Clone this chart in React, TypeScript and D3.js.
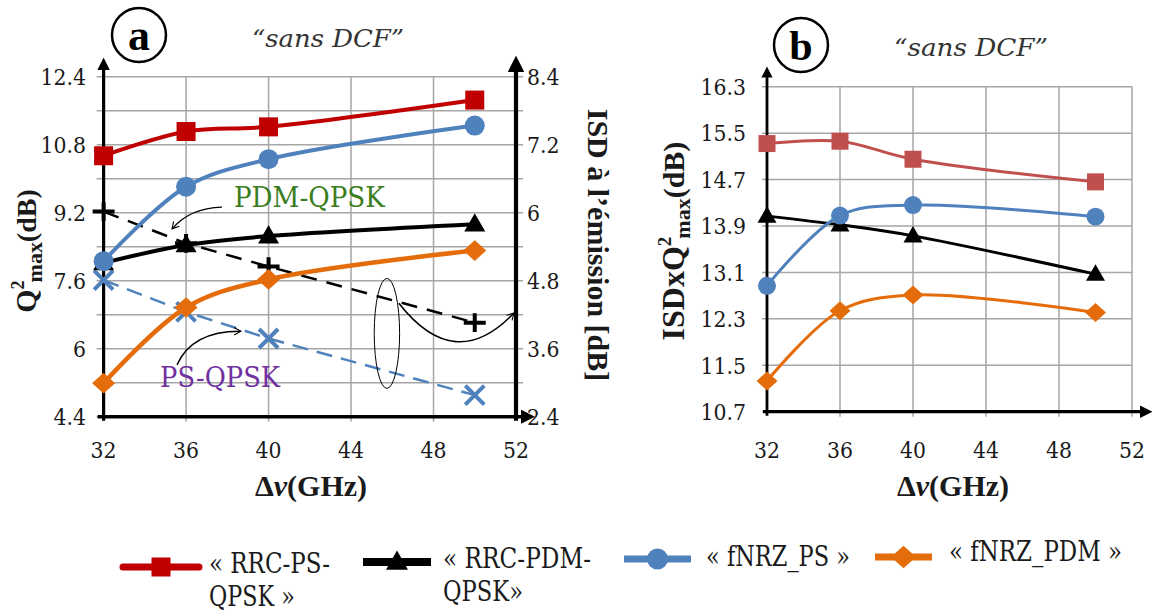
import React from "react";
import * as d3 from "d3";

// ---------- data ----------
const xValues = [32, 36, 40, 50];
const xTicks = [32, 36, 40, 44, 48, 52];

// panel a : Q²max (left axis)
const rrcPsQ = [10.54, 11.11, 11.22, 11.85];
const fnrzPsQ = [8.06, 9.81, 10.46, 11.25];
const rrcPdmQ = [8.02, 8.44, 8.65, 8.93];
const fnrzPdmQ = [5.19, 6.97, 7.63, 8.31];
// panel a : ISD à l'émission (right axis)
const isdPdm = [6.02, 5.46, 5.05, 4.06];
const isdPs = [4.81, 4.25, 3.78, 2.78];

const aLeftTicks = [4.4, 6, 7.6, 9.2, 10.8, 12.4];
const aRightTicks = [2.4, 3.6, 4.8, 6, 7.2, 8.4];
const aGrid = [4.4, 5.2, 6, 6.8, 7.6, 8.4, 9.2, 10, 10.8, 11.6, 12.4];

// panel b : ISD x Q²max
const rrcPsB = [15.32, 15.36, 15.05, 14.66];
const rrcPdmB = [14.07, 13.92, 13.73, 13.07];
const fnrzPsB = [12.87, 14.08, 14.26, 14.06];
const fnrzPdmB = [11.23, 12.44, 12.71, 12.41];
const bTicks = [10.7, 11.5, 12.3, 13.1, 13.9, 14.7, 15.5, 16.3];

const legendLabels = [
  ["« RRC-PS-", "QPSK »"],
  ["« RRC-PDM-", "QPSK»"],
  ["« fNRZ_PS »"],
  ["« fNRZ_PDM »"],
];

// ---------- styles ----------
const REG = "DejaVu Serif";
const BOLD = "Liberation Serif";
const RED_A = "#c00000";
const RED_B = "#c0504d";
const BLUE = "#4f81bd";
const ORANGE = "#e46c0a";
const GRID = "#a6a6a6";
const INK = "#1a1a1a";

// ---------- scales ----------
const xA = d3.scaleLinear().domain([32, 52]).range([103.6, 516]);
const yA = d3.scaleLinear().domain([4.4, 12.4]).range([416.7, 76.7]);
const yA2 = d3.scaleLinear().domain([2.4, 8.4]).range([416.7, 76.7]);
const xB = d3.scaleLinear().domain([32, 52]).range([767, 1132]);
const yB = d3.scaleLinear().domain([10.7, 16.3]).range([411.7, 86.7]);

const fmt = (v: number) => String(+v.toFixed(1));
// width of a numeric label in a Times-like face at 26px
const numWidth = (s: string) => s.split("").reduce((w, c) => w + (c === "." ? 6.5 : 13), 0);

// regular text: DejaVu Serif squeezed to Times-like widths
function T(props: any) {
  const { children, len, ...rest } = props;
  return (
    <text fill={INK} fontFamily={REG} textLength={len} lengthAdjust="spacingAndGlyphs" {...rest}>
      {children}
    </text>
  );
}
function B(props: any) {
  const { children, ...rest } = props;
  return (
    <text fill={INK} fontFamily={BOLD} fontWeight="bold" {...rest}>
      {children}
    </text>
  );
}

type Shape = "square" | "triangle" | "circle" | "diamond" | "x" | "plus";

function Mark({ shape, x, y, s, color }: { shape: Shape; x: number; y: number; s: number; color: string }) {
  const h = s / 2;
  if (shape === "square") return <rect x={x - h} y={y - h} width={s} height={s} fill={color} />;
  if (shape === "circle") return <circle cx={x} cy={y} r={h} fill={color} />;
  if (shape === "triangle") {
    const th = s * 0.87;
    return <path d={`M${x},${y - th * 0.6}L${x + h},${y + th * 0.4}L${x - h},${y + th * 0.4}Z`} fill={color} />;
  }
  if (shape === "diamond") {
    const hh = h * 0.9;
    return <path d={`M${x},${y - hh}L${x + h},${y}L${x},${y + hh}L${x - h},${y}Z`} fill={color} />;
  }
  if (shape === "x") {
    return (
      <path d={`M${x - h},${y - h}L${x + h},${y + h}M${x - h},${y + h}L${x + h},${y - h}`} stroke={color} strokeWidth={4} />
    );
  }
  return (
    <path d={`M${x - h},${y}L${x + h},${y}M${x},${y - h * 0.85}L${x},${y + h * 0.85}`} stroke={color} strokeWidth={4} />
  );
}

function Series({
  xs, ys, xScale, yScale, color, shape, size, width, smooth, dash,
}: {
  xs: number[]; ys: number[]; xScale: any; yScale: any; color: string; shape: Shape;
  size: number; width: number; smooth: boolean; dash?: string;
}) {
  const pts: [number, number][] = xs.map((x, i) => [xScale(x), yScale(ys[i])]);
  const line = d3.line().curve(smooth ? d3.curveCatmullRom.alpha(0.5) : d3.curveLinear);
  return (
    <g>
      <path d={line(pts) || ""} fill="none" stroke={color} strokeWidth={width} strokeDasharray={dash} />
      {pts.map((p, i) => (
        <Mark key={i} shape={shape} x={p[0]} y={p[1]} s={size} color={color} />
      ))}
    </g>
  );
}

export default function App() {
  const aLeft = xA(32);
  const aRight = xA(52);
  const aBottom = yA(4.4);
  const aTop = yA(12.4);
  const bLeft = xB(32);
  const bRight = xB(52);
  const bBottom = yB(10.7);
  const bTop = yB(16.3);

  const pdmArrow = `M${xA(37.74)},${yA(9.33)}Q${xA(36.19)},${yA(9.31)} ${xA(35.32)},${yA(8.82)}`;
  const psArrow = `M${xA(35.56)},${yA(5.62)}Q${xA(36.3)},${yA(6.42)} ${xA(38.66)},${yA(6.41)}`;
  const ellArrow = `M${xA(46.32)},${yA(7.07)}Q${xA(49.04)},${yA(5.38)} ${xA(51.9)},${yA(6.84)}`;

  const legendItems = [
    { color: RED_A, shape: "square" as Shape, x1: 123, x2: 199, y: 567, size: 19, tx: 209, ty: 573, lw: 7, lens: [121, 86] },
    { color: "#000", shape: "triangle" as Shape, x1: 363, x2: 431, y: 562, size: 22, tx: 443, ty: 568, lw: 8, lens: [148, 80] },
    { color: BLUE, shape: "circle" as Shape, x1: 624, x2: 691, y: 559, size: 21, tx: 706, ty: 566, lw: 7, lens: [144] },
    { color: ORANGE, shape: "diamond" as Shape, x1: 875, x2: 932, y: 557, size: 25, tx: 949, ty: 561, lw: 7, lens: [173] },
  ];

  return (
    <svg width={1155} height={613} style={{ position: "fixed", left: 0, top: 0, background: "#fff" }}>
      <defs>
        <marker id="axArrow" viewBox="0 0 10 10" refX="5" refY="5" markerWidth="4" markerHeight="4" orient="auto">
          <path d="M0,0L10,5L0,10Z" fill="#000" />
        </marker>
        <marker id="openArrow" viewBox="0 0 12 12" refX="10" refY="6" markerWidth="9" markerHeight="9" markerUnits="userSpaceOnUse" orient="auto">
          <path d="M1,1L10,6L1,11" fill="none" stroke="#000" strokeWidth="1.4" />
        </marker>
      </defs>
      <rect x={0} y={0} width={1155} height={613} fill="#fff" />

      {/* ===================== PANEL A ===================== */}
      <g>
        {aGrid.map((v) => (
          <line key={"ga" + v} x1={aLeft - 7} x2={aRight + 7} y1={yA(v)} y2={yA(v)} stroke={GRID} strokeWidth={1.5} />
        ))}
        {xTicks.slice(1, -1).map((v) => (
          <line key={"gxa" + v} x1={xA(v)} x2={xA(v)} y1={aTop} y2={aBottom + 5} stroke={GRID} strokeWidth={1.5} />
        ))}
        <line x1={aLeft} x2={aLeft} y1={aBottom + 4} y2={64} stroke="#000" strokeWidth={3.2} markerEnd="url(#axArrow)" />
        <line x1={aRight} x2={aRight} y1={aBottom + 4} y2={64} stroke="#000" strokeWidth={4.2} markerEnd="url(#axArrow)" />
        <line x1={aLeft - 6} x2={528} y1={aBottom} y2={aBottom} stroke="#000" strokeWidth={3.5} markerEnd="url(#axArrow)" />

        {aLeftTicks.map((v) => (
          <T key={"la" + v} x={86} y={yA(v)} dy="0.36em" textAnchor="end" fontSize={23} len={numWidth(fmt(v))}>
            {fmt(v)}
          </T>
        ))}
        {aRightTicks.map((v) => (
          <T key={"ra" + v} x={527} y={yA2(v)} dy="0.36em" textAnchor="start" fontSize={23} len={numWidth(fmt(v))}>
            {fmt(v)}
          </T>
        ))}
        {xTicks.map((v) => (
          <T key={"xa" + v} x={xA(v)} y={458} textAnchor="middle" fontSize={23} len={numWidth(String(v))}>
            {v}
          </T>
        ))}

        <Series xs={xValues} ys={isdPs} xScale={xA} yScale={yA2} color={BLUE} shape="x" size={19} width={2.5} smooth={false} dash="16,9" />
        <Series xs={xValues} ys={isdPdm} xScale={xA} yScale={yA2} color="#000" shape="plus" size={22} width={2.5} smooth={false} dash="16,10" />
        <Series xs={xValues} ys={fnrzPdmQ} xScale={xA} yScale={yA} color={ORANGE} shape="diamond" size={23} width={4.5} smooth />
        <Series xs={xValues} ys={rrcPdmQ} xScale={xA} yScale={yA} color="#000" shape="triangle" size={21} width={4} smooth />
        <Series xs={xValues} ys={fnrzPsQ} xScale={xA} yScale={yA} color={BLUE} shape="circle" size={20} width={4} smooth />
        <Series xs={xValues} ys={rrcPsQ} xScale={xA} yScale={yA} color={RED_A} shape="square" size={19} width={4} smooth />

        <T x={xA(38.32)} y={yA(9.33)} fontSize={27} fill="#3a7d1e" len={151}>PDM-QPSK</T>
        <path d={pdmArrow} fill="none" stroke="#000" strokeWidth={1.4} markerEnd="url(#openArrow)" />
        <T x={xA(34.74)} y={yA(5.1)} fontSize={27} fill="#7030a0" len={120}>PS-QPSK</T>
        <path d={psArrow} fill="none" stroke="#000" strokeWidth={1.4} markerEnd="url(#openArrow)" />
        <ellipse cx={xA(45.74)} cy={yA2(3.87)} rx={12.7} ry={55} fill="none" stroke="#000" strokeWidth={1} />
        <path d={ellArrow} fill="none" stroke="#000" strokeWidth={1.6} markerEnd="url(#openArrow)" />

        <circle cx={139} cy={35} r={27} fill="none" stroke="#000" strokeWidth={2.5} />
        <B x={139} y={35} dy="0.33em" textAnchor="middle" fontSize={44} fill="#000">a</B>
        <T x={328} y={47} textAnchor="middle" fontSize={25} fontStyle="italic" fill="#333" len={152}>“sans DCF”</T>

        <B transform="translate(36,251) rotate(-90)" textAnchor="middle" fontSize={30}>
          <tspan>Q</tspan>
          <tspan fontSize={18} dy={-12}>2</tspan>
          <tspan fontSize={22} dy={18} dx={-2}>max</tspan>
          <tspan fontSize={28} dy={-6}>(dB)</tspan>
        </B>
        <B transform="translate(588,245) rotate(90)" textAnchor="middle" fontSize={30}>
          ISD à l’émission [dB]
        </B>
        <B x={311} y={496} textAnchor="middle" fontSize={30}>
          <tspan>Δ</tspan>
          <tspan fontStyle="italic">ν</tspan>
          <tspan>(GHz)</tspan>
        </B>
      </g>

      {/* ===================== PANEL B ===================== */}
      <g>
        {bTicks.map((v) => (
          <line key={"gb" + v} x1={bLeft - 5} x2={bRight} y1={yB(v)} y2={yB(v)} stroke={GRID} strokeWidth={1.5} />
        ))}
        {xTicks.slice(1).map((v) => (
          <line key={"gxb" + v} x1={xB(v)} x2={xB(v)} y1={bTop} y2={bBottom + 5} stroke={GRID} strokeWidth={1.5} />
        ))}
        <line x1={bLeft} x2={bLeft} y1={bBottom + 4} y2={72} stroke="#000" strokeWidth={2.8} markerEnd="url(#axArrow)" />
        <line x1={bLeft - 4} x2={1146} y1={bBottom} y2={bBottom} stroke="#000" strokeWidth={3.2} markerEnd="url(#axArrow)" />

        {bTicks.map((v) => (
          <T key={"lb" + v} x={746} y={yB(v)} dy="0.36em" textAnchor="end" fontSize={23} len={numWidth(fmt(v))}>
            {fmt(v)}
          </T>
        ))}
        {xTicks.map((v) => (
          <T key={"xb" + v} x={xB(v)} y={458} textAnchor="middle" fontSize={23} len={numWidth(String(v))}>
            {v}
          </T>
        ))}

        <Series xs={xValues} ys={fnrzPdmB} xScale={xB} yScale={yB} color={ORANGE} shape="diamond" size={21} width={3} smooth />
        <Series xs={xValues} ys={rrcPdmB} xScale={xB} yScale={yB} color="#000" shape="triangle" size={19} width={3} smooth />
        <Series xs={xValues} ys={fnrzPsB} xScale={xB} yScale={yB} color={BLUE} shape="circle" size={18} width={3} smooth />
        <Series xs={xValues} ys={rrcPsB} xScale={xB} yScale={yB} color={RED_B} shape="square" size={17} width={3} smooth />

        <circle cx={801} cy={45} r={27} fill="none" stroke="#000" strokeWidth={2.5} />
        <B x={801} y={45} dy="0.35em" textAnchor="middle" fontSize={42} fill="#000">b</B>
        <T x={971} y={56} textAnchor="middle" fontSize={25} fontStyle="italic" fill="#333" len={154}>“sans DCF”</T>

        <B transform="translate(684,241) rotate(-90)" textAnchor="middle" fontSize={32}>
          <tspan>ISDxQ</tspan>
          <tspan fontSize={19} dy={-13}>2</tspan>
          <tspan fontSize={22} dy={19} dx={-2}>max</tspan>
          <tspan fontSize={30} dy={-6}>(dB)</tspan>
        </B>
        <B x={953} y={496} textAnchor="middle" fontSize={30}>
          <tspan>Δ</tspan>
          <tspan fontStyle="italic">ν</tspan>
          <tspan>(GHz)</tspan>
        </B>
      </g>

      {/* ===================== LEGEND ===================== */}
      {legendItems.map((it, i) => (
        <g key={"lg" + i}>
          <line x1={it.x1} x2={it.x2} y1={it.y} y2={it.y} stroke={it.color} strokeWidth={it.lw} strokeLinecap={i === 0 ? "round" : "butt"} />
          <Mark shape={it.shape} x={(it.x1 + it.x2) / 2} y={it.y} s={it.size} color={it.color} />
          {legendLabels[i].map((t, j) => (
            <T key={j} x={it.tx} y={it.ty + j * 33} fontSize={27} len={it.lens[j]}>
              {t}
            </T>
          ))}
        </g>
      ))}
    </svg>
  );
}
